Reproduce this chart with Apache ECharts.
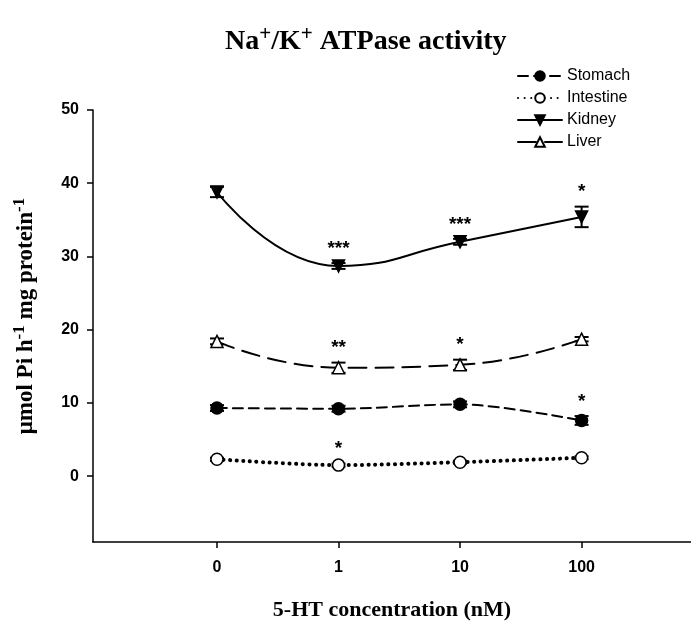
<!DOCTYPE html>
<html>
<head>
<meta charset="utf-8">
<script src="https://cdn.jsdelivr.net/npm/echarts@6/dist/echarts.min.js"></script>
<style>html,body{margin:0;padding:0;background:#fff}#c{width:691px;height:626px}</style>
</head>
<body>
<div id="c"></div>
<script>
// ---- data ----
const categories = ['0', '1', '10', '100'];
const yTicks = [0, 10, 20, 30, 40, 50];

const stomach = [9.3, 9.2, 9.8, 7.6];
const stomachErr = [0.4, 0.4, 0.4, 0.6];
const stomachSig = ['', '', '', '*'];

const intestine = [2.3, 1.5, 1.9, 2.5];
const intestineErr = [0.2, 0.2, 0.2, 0.2];
const intestineSig = ['', '*', '', ''];

const kidney = [38.8, 28.7, 32.0, 35.4];
const kidneyErr = [0.7, 0.4, 0.4, 1.4];
const kidneySig = ['', '***', '***', '*'];

const liver = [18.4, 14.8, 15.2, 18.7];
const liverErr = [0.4, 0.7, 0.7, 0.3];
const liverSig = ['', '**', '*', ''];

// ---- chart ----
const chart = echarts.init(document.getElementById('c'));
const pts = arr => arr.map((v, i) => [i, v]);
const errData = (vals, errs) => vals.map((v, i) => [i, v, errs[i]]);
const errRowsSig = {
  'eStomach': stomachSig, 'eIntestine': intestineSig, 'eKidney': kidneySig, 'eLiver': liverSig
};

function errRender(params, api) {
  const i = api.value(0), v = api.value(1), e = api.value(2);
  const sig = errRowsSig[params.seriesName][params.dataIndex];
  const top = api.coord([i, v + e]);
  const bot = api.coord([i, v - e]);
  const cw = 7;
  const st = {stroke: '#000', lineWidth: 2};
  const children = [
    {type: 'line', shape: {x1: top[0], y1: top[1], x2: bot[0], y2: bot[1]}, style: st},
    {type: 'line', shape: {x1: top[0] - cw, y1: top[1], x2: top[0] + cw, y2: top[1]}, style: st},
    {type: 'line', shape: {x1: bot[0] - cw, y1: bot[1], x2: bot[0] + cw, y2: bot[1]}, style: st}
  ];
  if (sig) {
    children.push({type: 'text', x: top[0], y: top[1] - 5,
      style: {text: sig, fill: '#000', font: 'bold 19px Arial', align: 'center', verticalAlign: 'bottom'}});
  }
  return {type: 'group', children};
}

function lineSeries(name, data, symbol, filled, rotate, lineType, width, smooth) {
  return {
    name, type: 'line', data: pts(data), smooth,
    symbol, symbolSize: 12, symbolRotate: rotate,
    itemStyle: {color: filled ? '#000' : '#fff', borderColor: '#000', borderWidth: 1.5},
    lineStyle: {color: '#000', width, type: lineType, cap: 'round'},
    z: 3
  };
}
function errSeries(name, vals, errs) {
  return {name: 'e' + name, type: 'custom', renderItem: errRender, data: errData(vals, errs), z: 2, silent: true};
}

chart.setOption({
  animation: false,
  backgroundColor: '#fff',
  title: {
    text: 'Na{sup|+}/K{sup|+} ATPase activity',
    left: 220, top: 19,
    textStyle: {
      fontFamily: 'Liberation Serif', fontWeight: 'bold', fontSize: 28, color: '#000',
      rich: {sup: {fontFamily: 'Liberation Serif', fontWeight: 'bold', fontSize: 21, color: '#000', verticalAlign: 'top', padding: [0, 0, 15, 0]}}
    }
  },
  legend: {
    data: ['Stomach', 'Intestine', 'Kidney', 'Liver'],
    orient: 'vertical', left: 512, top: 63, itemWidth: 44, itemHeight: 12, itemGap: 6,
    textStyle: {fontFamily: 'Arial, Liberation Sans', fontSize: 16, color: '#000'}
  },
  grid: {left: 93, right: 0, top: 110, bottom: 75},
  xAxis: {
    type: 'value', min: -1.02, max: 3.9,
    name: '5-HT concentration (nM)', nameLocation: 'middle', nameGap: 57,
    nameTextStyle: {fontFamily: 'Liberation Serif', fontWeight: 'bold', fontSize: 22, color: '#000', padding: [0, 0, 0, 0]},
    axisLine: {onZero: false, lineStyle: {color: '#000', width: 1.5}},
    axisTick: {customValues: [0, 1, 2, 3], length: 6, lineStyle: {color: '#000', width: 1.5}},
    axisLabel: {customValues: [0, 1, 2, 3], formatter: v => categories[v], margin: 18,
      fontFamily: 'Arial, Liberation Sans', fontWeight: 'bold', fontSize: 16, color: '#000'},
    splitLine: {show: false}
  },
  yAxis: {
    type: 'value', min: -9, max: 50,
    name: 'μmol Pi h{sup|-1} mg protein{sup|-1}', nameLocation: 'middle', nameGap: 52,
    nameTextStyle: {fontFamily: 'Liberation Serif', fontWeight: 'bold', fontSize: 23, color: '#000',
      padding: [0, 0, 0, 20],
      rich: {sup: {fontFamily: 'Liberation Serif', fontWeight: 'bold', fontSize: 17, color: '#000', verticalAlign: 'top', padding: [0, 0, 13, 0]}}},
    axisLine: {show: true, onZero: false, lineStyle: {color: '#000', width: 1.5}},
    axisTick: {show: true, customValues: yTicks, length: 6, lineStyle: {color: '#000', width: 1.5}},
    axisLabel: {customValues: yTicks, margin: 14,
      fontFamily: 'Arial, Liberation Sans', fontWeight: 'bold', fontSize: 16, color: '#000'},
    splitLine: {show: false}
  },
  series: [
    lineSeries('Stomach', stomach, 'circle', true, 0, [10, 6], 2, 0.3),
    lineSeries('Intestine', intestine, 'circle', false, 0, [0.1, 6.5], 4, 0.3),
    lineSeries('Kidney', kidney, 'triangle', true, 180, 'solid', 2, 0.5),
    lineSeries('Liver', liver, 'triangle', false, 0, [18, 9], 2, 0.5),
    errSeries('Stomach', stomach, stomachErr),
    errSeries('Intestine', intestine, intestineErr),
    errSeries('Kidney', kidney, kidneyErr),
    errSeries('Liver', liver, liverErr)
  ]
});
</script>
</body>
</html>
